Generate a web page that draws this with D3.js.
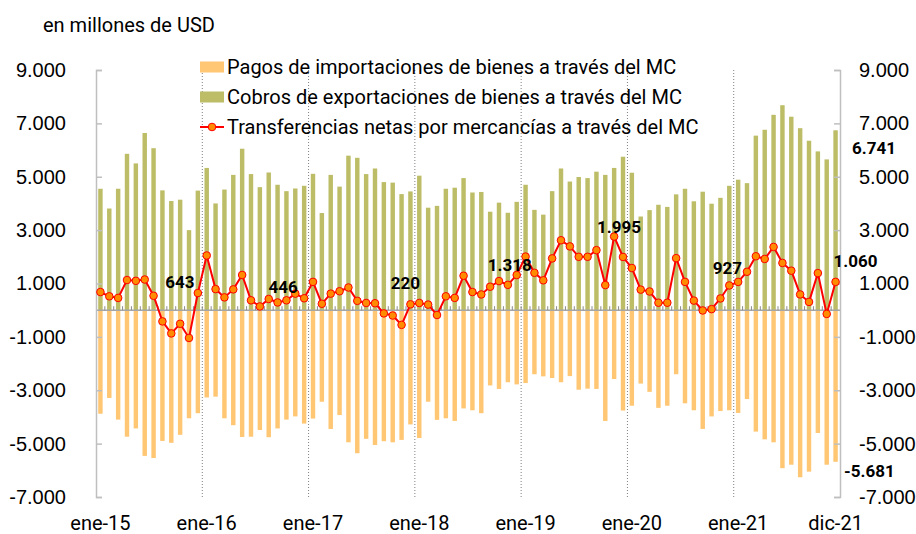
<!DOCTYPE html>
<html>
  <head>
    <meta charset="utf-8">
    <title>Transferencias por mercancías a través del MC</title>
    <script src="https://cdn.jsdelivr.net/npm/d3@7"></script>
    <style>
      body { margin: 0; background: #fff; }
      svg { display: block; font-family: Roboto, "Noto Sans", sans-serif; }
      .axis path, .axis line { stroke: #bfbfbf; stroke-width: 1.5; }
      .axis text { font-size: 20px; fill: #000; }
      .xlab { font-size: 20px; }
      .val { font-size: 17px; font-weight: bold; }
      .legend text { font-size: 20px; }
    </style>
  </head>

  <body>
    <svg id="chart" width="916" height="534"></svg>

    <script>
      // data, millions of USD, ene-15 .. dic-21
      const years = ["15", "16", "17", "18", "19", "20", "21"];
      const monthNames = ["ene", "feb", "mar", "abr", "may", "jun", "jul", "ago", "sep", "oct", "nov", "dic"];
      const months = [];
      years.forEach(function(y) {
        monthNames.forEach(function(m) { months.push(m + "-" + y); });
      });

      const exportsMC = [
        4550, 3810, 4550, 5860, 5500, 6640, 6070, 4490, 4090, 4140, 3000, 4480,
        5330, 4000, 4520, 5070, 6050, 5100, 4610, 5160, 4700, 4460, 4560, 4660,
        5110, 3640, 5070, 4630, 5790, 5710, 5100, 5310, 4800, 4780, 4350, 4450,
        5040, 3840, 3910, 4550, 4590, 4950, 4410, 4430, 3690, 4030, 3650, 4060,
        4700, 3760, 3580, 4460, 5310, 4820, 4990, 4950, 5190, 5070, 5330, 5750,
        5150, 3510, 3750, 3950, 3870, 4340, 4550, 4080, 4440, 3990, 4210, 4660,
        4890, 4760, 6540, 6760, 7320, 7680, 7250, 6820, 6350, 5950, 5650, 6741
      ];
      const importsMC = [
        -3880, -3290, -4100, -4740, -4430, -5460, -5540, -4900, -4970, -4670, -4050, -3860,
        -3270, -3240, -4050, -4310, -4750, -4740, -4490, -4760, -4430, -4100, -3980, -4250,
        -4060, -3430, -4450, -3930, -4950, -5360, -4820, -5050, -4910, -4950, -4860, -4280,
        -4790, -3430, -4110, -4050, -4150, -3680, -3750, -3860, -2820, -2950, -2700, -2780,
        -2730, -2400, -2480, -2540, -2700, -2470, -2980, -2940, -2950, -4150, -2580, -3760,
        -3580, -2750, -3060, -3660, -3580, -2400, -3490, -3750, -4450, -3980, -3780, -3750,
        -3850, -3330, -4550, -4840, -4950, -5920, -5790, -6260, -6050, -4600, -5790, -5681
      ];
      const netMC = [
        680, 520, 460, 1130, 1100, 1150, 540, -420, -870, -510, -1040, 643,
        2050, 790, 480, 780, 1320, 370, 140, 420, 290, 370, 620, 446,
        1060, 240, 620, 710, 850, 350, 270, 260, -120, -200, -550, 220,
        270, 210, -180, 520, 460, 1290, 680, 590, 880, 1090, 950, 1318,
        2010, 1400, 1120, 1940, 2620, 2390, 2000, 2000, 2250, 940, 2760, 1995,
        1580, 770, 700, 280, 280, 1950, 1060, 360, -10, 40, 440, 927,
        1060, 1440, 2020, 1920, 2370, 1770, 1480, 590, 310, 1390, -140, 1060
      ];
      const yTicks = [-7000, -5000, -3000, -1000, 1000, 3000, 5000, 7000, 9000];
      const xLabelMonths = ["ene-15", "ene-16", "ene-17", "ene-18", "ene-19", "ene-20", "ene-21", "dic-21"];
      const decemberLabels = ["dic-15", "dic-16", "dic-17", "dic-18", "dic-19", "dic-20", "dic-21"];
      const legendNames = [
        "Pagos de importaciones de bienes a través del MC",
        "Cobros de exportaciones de bienes a través del MC",
        "Transferencias netas por mercancías a través del MC"
      ];

      // layout (label nudges are by hand, as in the original)
      const labelShift = [[-18, -11], [-21, -11], [-5, -21], [-7, -10], [-4, -30], [-2, -17], [20, -21]];
      const colors = { imp: "#ffc673", exp: "#bcbd66", line: "#ff0000", dot: "#ff8c00" };

      const es = d3.formatLocale({ decimal: ",", thousands: ".", grouping: [3], currency: ["$", ""], minus: "-" });
      const fmt = es.format(",");

      const svg = d3.select("#chart");
      const plotLeft = 96, plotRight = 840, plotTop = 70, plotBottom = 497;

      const x = d3.scaleBand()
        .domain(months)
        .range([plotLeft, plotRight])
        .paddingInner(0.5)
        .paddingOuter(0.25);
      const y = d3.scaleLinear()
        .domain([-7000, 9000])
        .range([plotBottom, plotTop]);
      const step = x.step();
      const edge = function(m) { return x(m) - step * x.paddingInner() / 2; };
      const mid = function(m) { return x(m) + x.bandwidth() / 2; };

      // bars
      svg.append("g").selectAll("rect")
        .data(months)
        .enter().append("rect")
          .attr("x", function(m) { return x(m); })
          .attr("width", x.bandwidth())
          .attr("y", function(m, i) { return y(exportsMC[i]); })
          .attr("height", function(m, i) { return y(0) - y(exportsMC[i]); })
          .attr("fill", colors.exp);
      svg.append("g").selectAll("rect")
        .data(months)
        .enter().append("rect")
          .attr("x", function(m) { return x(m); })
          .attr("width", x.bandwidth())
          .attr("y", y(0))
          .attr("height", function(m, i) { return y(importsMC[i]) - y(0); })
          .attr("fill", colors.imp);

      // year separators
      svg.append("g").selectAll("line")
        .data(xLabelMonths.filter(function(m) { return m.startsWith("ene") && m != "ene-15"; }))
        .enter().append("line")
          .attr("x1", edge).attr("x2", edge)
          .attr("y1", plotTop).attr("y2", plotBottom)
          .attr("stroke", "#7f7f7f")
          .attr("stroke-width", 1)
          .attr("stroke-dasharray", "1,2");

      // zero line with month ticks
      svg.append("line")
        .attr("x1", plotLeft).attr("x2", plotRight)
        .attr("y1", y(0)).attr("y2", y(0))
        .attr("stroke", "#a6a6a6")
        .attr("stroke-width", 1.5);
      svg.append("g").selectAll("line")
        .data(months.slice(1))
        .enter().append("line")
          .attr("x1", edge).attr("x2", edge)
          .attr("y1", y(0)).attr("y2", y(0) - 4)
          .attr("stroke", "#8c8c8c")
          .attr("stroke-width", 1);

      // axes
      svg.append("g")
        .attr("class", "axis")
        .attr("transform", "translate(" + plotLeft + ",0)")
        .call(d3.axisLeft(y).tickValues(yTicks).tickFormat(fmt)
          .tickSizeInner(-6).tickSizeOuter(-6).tickPadding(30));
      svg.append("g")
        .attr("class", "axis")
        .attr("transform", "translate(" + plotRight + ",0)")
        .call(d3.axisRight(y).tickValues(yTicks).tickFormat(fmt)
          .tickSizeInner(-6).tickSizeOuter(-6).tickPadding(19));
      svg.selectAll(".axis .domain").attr("fill", "none");

      // x labels
      svg.append("g").selectAll("text")
        .data(xLabelMonths)
        .enter().append("text")
          .attr("class", "xlab")
          .attr("x", mid)
          .attr("y", 530)
          .attr("text-anchor", "middle")
          .text(function(m) { return m; });

      // net line and dots
      const line = d3.line()
        .x(mid)
        .y(function(m, i) { return y(netMC[i]); });
      svg.append("path")
        .datum(months)
        .attr("d", line)
        .attr("fill", "none")
        .attr("stroke", colors.line)
        .attr("stroke-width", 2);
      svg.append("g").selectAll("circle")
        .data(months)
        .enter().append("circle")
          .attr("cx", mid)
          .attr("cy", function(m, i) { return y(netMC[i]); })
          .attr("r", 3.8)
          .attr("fill", colors.dot)
          .attr("stroke", colors.line)
          .attr("stroke-width", 1);

      // december value labels
      svg.append("g").selectAll("text")
        .data(decemberLabels)
        .enter().append("text")
          .attr("class", "val")
          .attr("x", function(m, i) { return mid(m) + labelShift[i][0]; })
          .attr("y", function(m, i) { return y(netMC[months.indexOf(m)]) + labelShift[i][1]; })
          .attr("text-anchor", "middle")
          .attr("dominant-baseline", "central")
          .text(function(m) { return fmt(netMC[months.indexOf(m)]); });
      const last = months.length - 1;
      svg.append("text")
        .attr("class", "val")
        .attr("x", 852).attr("y", y(exportsMC[last]) + 18)
        .attr("dominant-baseline", "central")
        .text(fmt(exportsMC[last]));
      svg.append("text")
        .attr("class", "val")
        .attr("x", 844).attr("y", y(importsMC[last]) + 9)
        .attr("dominant-baseline", "central")
        .text(fmt(importsMC[last]));

      // unit
      svg.append("text")
        .attr("x", 43).attr("y", 32)
        .style("font-size", "20px")
        .text("en millones de USD");

      // legend
      const legend = svg.append("g").attr("class", "legend");
      legendNames.forEach(function(name, i) {
        let ly = 67 + i * 30;
        if (i < 2) {
          legend.append("rect")
            .attr("x", 200).attr("y", ly - 5.5)
            .attr("width", 24).attr("height", 11)
            .attr("fill", i == 0 ? colors.imp : colors.exp);
        } else {
          legend.append("line")
            .attr("x1", 200).attr("x2", 224)
            .attr("y1", ly).attr("y2", ly)
            .attr("stroke", colors.line)
            .attr("stroke-width", 2);
          legend.append("circle")
            .attr("cx", 212).attr("cy", ly).attr("r", 3.8)
            .attr("fill", colors.dot)
            .attr("stroke", colors.line);
        }
        legend.append("text")
          .attr("x", 227).attr("y", ly)
          .attr("dominant-baseline", "central")
          .text(name);
      });
    </script>
  </body>
</html>
